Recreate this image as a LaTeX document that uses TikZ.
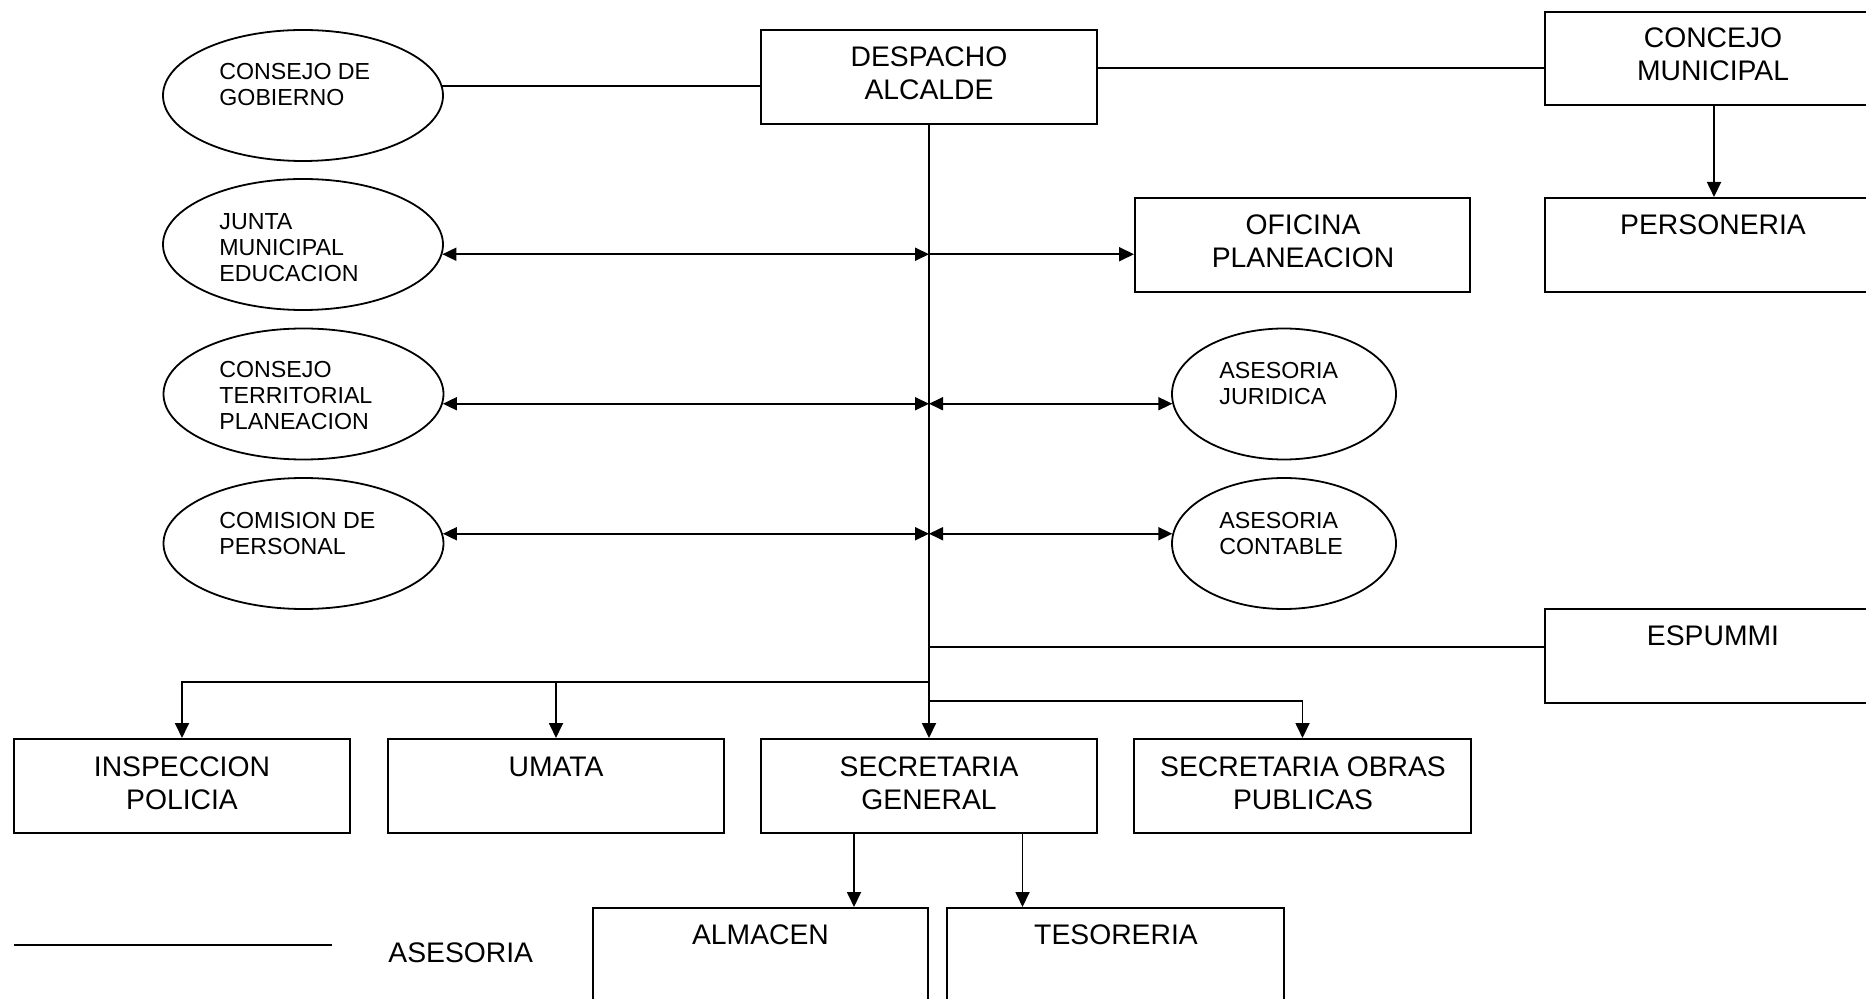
\documentclass[tikz,border=0pt]{standalone}
\usepackage{fontspec}
\setmainfont{Liberation Sans}
\usetikzlibrary{arrows.meta,shapes.geometric}
\begin{document}
\begin{tikzpicture}[x=0.5pt,y=-0.5pt,
  box/.style={draw, line width=1pt, rectangle, inner sep=0pt, minimum width=168pt, minimum height=47pt},
  ell/.style={draw, ellipse, line width=0.9pt, inner sep=0pt, minimum width=140pt, minimum height=65.5pt},
  bt/.style={font=\fontsize{14.15}{16.5}\selectfont, align=center, inner sep=0pt},
  st/.style={font=\fontsize{11.6}{13}\selectfont, align=left, inner sep=0pt, anchor=west},
  conn/.style={line width=0.9pt},
  arr/.style={conn, -{Triangle[length=7.5pt,width=7pt]}},
  dbl/.style={conn, {Triangle[length=7pt,width=6.5pt]}-{Triangle[length=7pt,width=6.5pt]}}]
\useasboundingbox (0,0) rectangle (1866,999);

% boxes
\node[box] (desp) at (929,77) {};
\node[bt] (despt) at (929,73.5) {DESPACHO\\ALCALDE};
\node[box, minimum width=169pt, minimum height=46.5pt] (concejo) at (1714,58.5) {};
\node[bt] (concejot) at (1713,54.5) {CONCEJO\\MUNICIPAL};
\node[box, minimum width=169pt] (person) at (1714,245) {};
\node[bt] (persont) at (1713,225) {PERSONERIA};
\node[box, minimum width=167.5pt] (oficina) at (1302.5,245) {};
\node[bt] (oficinat) at (1303,241) {OFICINA\\PLANEACION};
\node[box, minimum width=169pt] (espummi) at (1714,656) {};
\node[bt] (espummit) at (1713,636) {ESPUMMI};
\node[box] (insp) at (182,786) {};
\node[bt] (inspt) at (182,783) {INSPECCION\\POLICIA};
\node[box] (umata) at (556,786) {};
\node[bt] (umatat) at (556,767) {UMATA};
\node[box] (secgen) at (929,786) {};
\node[bt] (secgent) at (929,783) {SECRETARIA\\GENERAL};
\node[box, minimum width=168.5pt] (obras) at (1302.5,786) {};
\node[bt] (obrast) at (1303,783) {SECRETARIA OBRAS\\PUBLICAS};
\node[box, minimum width=167.5pt, minimum height=56pt] (almacen) at (760.5,964) {};
\node[bt] (almacent) at (760.5,935) {ALMACEN};
\node[box, minimum width=168.5pt, minimum height=56pt] (tesoreria) at (1115.5,964) {};
\node[bt] (tesoreriat) at (1116,935) {TESORERIA};

% ellipses
\node[ell] (gob) at (303,95.5) {};
\node[st] (gobt) at (219,84.5) {CONSEJO DE\\GOBIERNO};
\node[ell] (junta) at (303,244.5) {};
\node[st] (juntat) at (219,247.5) {JUNTA\\MUNICIPAL\\EDUCACION};
\node[ell] (terr) at (303.5,394) {};
\node[st] (terrt) at (219,396) {CONSEJO\\TERRITORIAL\\PLANEACION};
\node[ell] (comis) at (303.5,543.5) {};
\node[st] (comist) at (219,533.5) {COMISION DE\\PERSONAL};
\node[ell, minimum width=112pt] (jurid) at (1284,394) {};
\node[st] (juridt) at (1219,383.5) {ASESORIA\\JURIDICA};
\node[ell, minimum width=112pt] (contab) at (1284,543.5) {};
\node[st] (contabt) at (1219,533.5) {ASESORIA\\CONTABLE};

% legend
\coordinate (l1) at (14,945);
\coordinate (l2) at (332,945);
\draw[conn] (l1) -- (l2);
\node[bt, anchor=west] (legt) at (388,953) {ASESORIA};

% top connections
\draw[conn] (gob.4) -- (gob.4 -| desp.west);
\coordinate (dc) at ([yshift=4.5pt]desp.east);
\draw[conn] (dc) -- (dc -| concejo.west);
\draw[arr] (concejo.south) -- (person.north);

% trunk
\draw[arr] (desp.south) -- (secgen.north);

% rows
\coordinate (t1) at (junta.-4 -| desp.south);
\draw[dbl] (junta.-4) -- (t1);
\draw[arr] (t1) -- (t1 -| oficina.west);
\coordinate (t2) at (terr.-4 -| desp.south);
\draw[dbl] (terr.-4) -- (t2);
\draw[dbl] (t2) -- (t2 -| jurid.185);
\coordinate (t3) at (comis.4 -| desp.south);
\draw[dbl] (comis.4) -- (t3);
\draw[dbl] (t3) -- (t3 -| contab.175);
\coordinate (t4) at ([yshift=4.5pt]espummi.west -| desp.south);
\draw[conn] (t4) -- (t4 -| espummi.west);

% bottom branches
\coordinate (t5) at ([yshift=28pt]secgen.north);
\coordinate (t6) at ([yshift=18.5pt]secgen.north);
\draw[arr] (t5) -| (insp.north);
\draw[arr] (umata.north |- t5) -- (umata.north);
\draw[arr] (t6) -| (obras.north);

\coordinate (a1) at (854,0);
\coordinate (a2) at (1022.5,0);
\draw[arr] (secgen.south -| a1) -- (almacen.north -| a1);
\draw[arr] (secgen.south -| a2) -- (tesoreria.north -| a2);
\end{tikzpicture}
\end{document}
